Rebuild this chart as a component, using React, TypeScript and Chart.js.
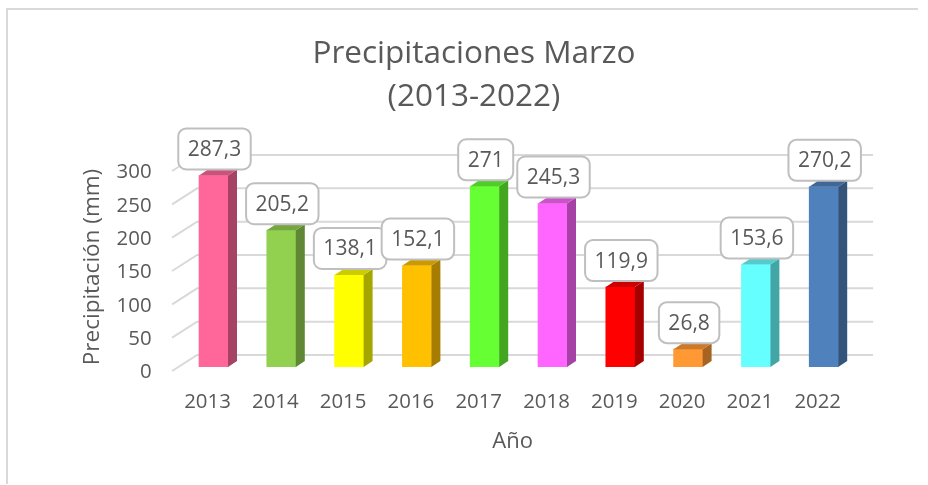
import React, { useEffect, useRef } from "react";
import { Chart, registerables } from "chart.js";

Chart.register(...registerables);

const years = ["2013", "2014", "2015", "2016", "2017", "2018", "2019", "2020", "2021", "2022"];
const precipitation = [287.3, 205.2, 138.1, 152.1, 271, 245.3, 119.9, 26.8, 153.6, 270.2];
const barColors = ["#ff6699", "#92d050", "#ffff00", "#ffc000", "#66ff33", "#ff66ff", "#ff0000", "#ff9933", "#66ffff", "#4f81bd"];
const titleLines = ["Precipitaciones Marzo", "(2013-2022)"];
const yTitle = "Precipitación (mm)";
const xTitle = "Año";

const FONT = '"Open Sans", sans-serif';
const TEXT = "#595959";
const GRID = "#d9d9d9";

function shade(hex: string, k: number) {
  const n = parseInt(hex.slice(1), 16);
  const c = [(n >> 16) & 255, (n >> 8) & 255, n & 255].map((v) => Math.round(v * k));
  return `rgb(${c[0]},${c[1]},${c[2]})`;
}

const scene3d = {
  id: "scene3d",
  afterLayout(chart: any) {
    const x = chart.scales.x;
    x.left -= 6;
    x.right -= 6;
    const t = chart.titleBlock;
    if (t) {
      const d = 474 - (t.left + t.right) / 2;
      t.left += d;
      t.right += d;
    }
  },
  beforeDraw(chart: any) {
    const c = chart.ctx;
    c.save();
    c.strokeStyle = "#d9d9d9";
    c.lineWidth = 2;
    c.beginPath();
    c.moveTo(7, 484);
    c.lineTo(7, 9);
    c.lineTo(918, 9);
    c.stroke();
    c.restore();
  },
  beforeDatasetsDraw(chart: any) {
    const c = chart.ctx;
    const y = chart.scales.y;
    const a = chart.chartArea;
    c.save();
    c.strokeStyle = GRID;
    c.lineWidth = 2;
    for (const t of y.ticks) {
      const p = y.getPixelForValue(t.value);
      c.beginPath();
      c.moveTo(a.left - 7.5, p + 4);
      c.lineTo(a.left + 17.5, p - 12);
      c.lineTo(a.right + 15.5, p - 12);
      c.stroke();
    }
    c.restore();
  },
  afterDatasetsDraw(chart: any) {
    const c = chart.ctx;
    const bars = chart.getDatasetMeta(0).data;
    const dx = 9;
    const dy = 6;
    c.save();
    bars.forEach((b: any, i: number) => {
      const l = b.x - b.width / 2;
      const r = b.x + b.width / 2;
      c.fillStyle = shade(barColors[i], 0.65);
      c.beginPath();
      c.moveTo(r, b.y);
      c.lineTo(r + dx, b.y - dy);
      c.lineTo(r + dx, b.base - dy);
      c.lineTo(r, b.base);
      c.closePath();
      c.fill();
      c.fillStyle = shade(barColors[i], 0.8);
      c.beginPath();
      c.moveTo(l, b.y);
      c.lineTo(l + dx, b.y - dy);
      c.lineTo(r + dx, b.y - dy);
      c.lineTo(r, b.y);
      c.closePath();
      c.fill();
    });
    c.font = `21px ${FONT}`;
    c.textAlign = "center";
    c.textBaseline = "middle";
    bars.forEach((b: any, i: number) => {
      const label = String(precipitation[i]).replace(".", ",");
      const w = c.measureText(label).width + 19;
      const h = 41;
      const cx = b.x + 1;
      const top = b.y - 6 - h;
      c.beginPath();
      c.roundRect(cx - w / 2, top, w, h, 8);
      c.fillStyle = "#ffffff";
      c.fill();
      c.lineWidth = 2;
      c.strokeStyle = "#bfbfbf";
      c.stroke();
      c.fillStyle = TEXT;
      c.fillText(label, cx, top + h / 2 + 1);
    });
    c.restore();
  },
};

export default function App() {
  const ref = useRef<HTMLCanvasElement>(null);
  useEffect(() => {
    const chart = new Chart(ref.current!, {
      type: "bar",
      data: {
        labels: years,
        datasets: [
          {
            data: precipitation,
            backgroundColor: barColors,
            barThickness: 29,
            borderWidth: 0,
          },
        ],
      },
      options: {
        animation: false,
        responsive: false,
        layout: { padding: { left: 79, right: 70.4, top: 32.5, bottom: 32.25 } },
        plugins: {
          legend: { display: false },
          tooltip: { enabled: false },
          title: {
            display: true,
            text: titleLines,
            color: TEXT,
            font: { family: FONT, size: 31.5, weight: "normal", lineHeight: 1.365 },
            padding: { top: 0, bottom: 48.5 },
          },
        },
        scales: {
          x: {
            grid: { display: false, drawTicks: false },
            border: { display: false },
            ticks: { color: TEXT, font: { family: FONT, size: 20.4 }, labelOffset: -6, padding: 23, maxRotation: 0 },
            title: { display: true, text: xTitle, color: TEXT, font: { family: FONT, size: 22, lineHeight: 1 }, padding: 0 },
            afterFit(s: any) {
              s.height = 85.75;
            },
          },
          y: {
            min: 0,
            max: 300,
            grid: { display: false, drawTicks: false },
            border: { display: false },
            ticks: { stepSize: 50, color: TEXT, font: { family: FONT, size: 20.4 }, labelOffset: 5.5, padding: 28 },
            title: { display: true, text: yTitle, color: TEXT, font: { family: FONT, size: 22.5 }, padding: 0 },
            afterFit(s: any) {
              s.width = 100.6;
            },
          },
        },
      },
      plugins: [scene3d],
    } as any);
    return () => chart.destroy();
  }, []);
  return (
    <div style={{ position: "fixed", left: 0, top: 0, width: 928, height: 485, background: "#fff" }}>
      <canvas ref={ref} width={928} height={485} style={{ display: "block" }} />
    </div>
  );
}
